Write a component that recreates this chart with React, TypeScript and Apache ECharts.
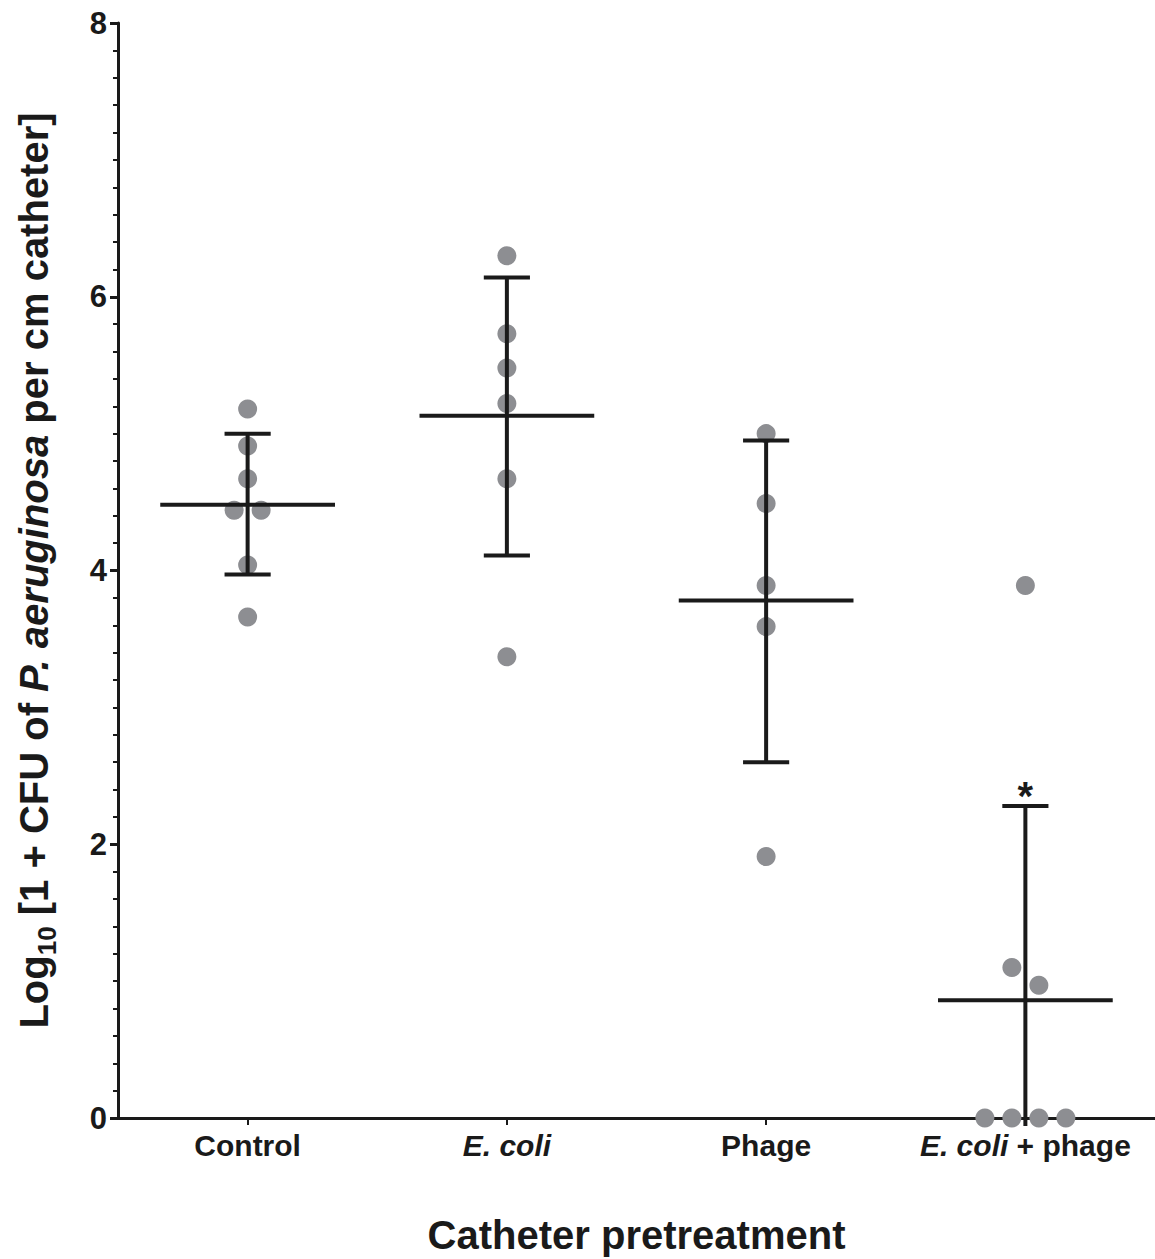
import React, { useEffect, useRef } from "react";
import * as echarts from "echarts";

// ---- data ----
const categories = ["Control", "E. coli", "Phage", "E. coli + phage"];

const controlValues = [5.18, 4.91, 4.67, 4.44, 4.44, 4.04, 3.66];
const controlSlots = [0, 0, 0, -0.5, 0.5, 0, 0];

const ecoliValues = [6.3, 5.73, 5.48, 5.22, 4.67, 3.37];
const ecoliSlots = [0, 0, 0, 0, 0, 0];

const phageValues = [5.0, 4.49, 3.89, 3.59, 1.91];
const phageSlots = [0, 0, 0, 0, 0];

const ecoliPhageValues = [3.89, 1.1, 0.97, 0, 0, 0, 0];
const ecoliPhageSlots = [0, -0.5, 0.5, -1.5, -0.5, 0.5, 1.5];

const groupValues = [controlValues, ecoliValues, phageValues, ecoliPhageValues];
const groupSlots = [controlSlots, ecoliSlots, phageSlots, ecoliPhageSlots];

const means = [4.48, 5.13, 3.78, 0.86];
const sdUpper = [5.0, 6.14, 4.95, 2.28];
const sdLower = [3.97, 4.11, 2.6, 0];
const significance = ["", "", "", "*"];

const yMin = 0;
const yMax = 8;
const yInterval = 2;

const INK = "#1a1a1a";
const DOT = "#8d8e92";
const FONT = "'Liberation Sans', Arial, Helvetica, sans-serif";
const SLOT_PX = 27;

export default function App() {
  const ref = useRef<HTMLDivElement>(null);

  useEffect(() => {
    if (!ref.current) return;
    const chart = echarts.init(ref.current, undefined, { renderer: "svg" });

    const scatterData: any[] = [];
    groupValues.forEach((vals, gi) => {
      vals.forEach((v, k) => {
        scatterData.push({
          value: [gi, v],
          symbolOffset: [groupSlots[gi][k] * SLOT_PX, 0],
        });
      });
    });

    const barData = categories.map((_, i) => [i, means[i], sdLower[i], sdUpper[i]]);

    chart.setOption({
      animation: false,
      backgroundColor: "#ffffff",
      grid: { left: 118, right: 0, top: 23, bottom: 141, outerBoundsMode: "none" },
      xAxis: {
        type: "category",
        data: categories,
        boundaryGap: true,
        name: "Catheter pretreatment",
        nameLocation: "middle",
        nameGap: 97,
        nameTextStyle: { fontFamily: FONT, fontWeight: "bold", fontSize: 40, color: INK },
        axisLine: { show: true, lineStyle: { color: INK, width: 3 } },
        axisTick: { show: true, alignWithLabel: true, length: 7, lineStyle: { color: INK, width: 2 } },
        axisLabel: {
          interval: 0,
          hideOverlap: false,
          margin: 12,
          fontFamily: FONT,
          fontWeight: "bold",
          fontSize: 30,
          color: INK,
          formatter: (v: string) => v.split("E. coli").join("{i|E. coli}"),
          rich: {
            i: { fontFamily: FONT, fontWeight: "bold", fontStyle: "italic", fontSize: 30, color: INK },
          },
        },
        splitLine: { show: false },
      },
      yAxis: {
        type: "value",
        min: yMin,
        max: yMax,
        interval: yInterval,
        name: "{a|Log}{s|10}{a| [1 + CFU of }{i|P. aeruginosa}{a| per cm catheter]}",
        nameLocation: "middle",
        nameRotate: 90,
        nameGap: 58,
        nameTextStyle: {
          fontFamily: FONT,
          fontWeight: "bold",
          fontSize: 40,
          color: INK,
          rich: {
            a: { fontFamily: FONT, fontWeight: "bold", fontSize: 40, color: INK, lineHeight: 46, verticalAlign: "bottom", padding: [0, 0, 6, 0] },
            s: { fontFamily: FONT, fontWeight: "bold", fontSize: 26, color: INK, lineHeight: 26, verticalAlign: "bottom" },
            i: { fontFamily: FONT, fontWeight: "bold", fontStyle: "italic", fontSize: 40, color: INK, lineHeight: 46, verticalAlign: "bottom", padding: [0, 0, 6, 0] },
          },
        },
        axisLine: { show: true, lineStyle: { color: INK, width: 3 } },
        axisTick: { show: true, length: 8, lineStyle: { color: INK, width: 3 } },
        minorTick: { show: true, splitNumber: 10, length: 5, lineStyle: { color: INK, width: 2 } },
        axisLabel: { margin: 11, fontFamily: FONT, fontWeight: "bold", fontSize: 31, color: INK },
        splitLine: { show: false },
        minorSplitLine: { show: false },
      },
      series: [
        {
          type: "scatter",
          data: scatterData,
          symbol: "circle",
          symbolSize: 19,
          itemStyle: { color: DOT, opacity: 1 },
          z: 2,
        },
        {
          type: "custom",
          z: 3,
          data: barData,
          renderItem: (params: any, api: any) => {
            const x = api.value(0);
            const m = api.coord([x, api.value(1)]);
            const lo = api.coord([x, api.value(2)]);
            const hi = api.coord([x, api.value(3)]);
            const band = api.size([1, 0])[0];
            const meanHalf = band * 0.337;
            const capHalf = band * 0.089;
            const ls = { stroke: INK, lineWidth: 4 };
            const atFloor = api.value(2) <= yMin;
            const children: any[] = [
              { type: "line", shape: { x1: hi[0], y1: hi[1], x2: lo[0], y2: lo[1] + (atFloor ? 8 : 0) }, style: ls },
              { type: "line", shape: { x1: hi[0] - capHalf, y1: hi[1], x2: hi[0] + capHalf, y2: hi[1] }, style: ls },
              { type: "line", shape: { x1: m[0] - meanHalf, y1: m[1], x2: m[0] + meanHalf, y2: m[1] }, style: ls },
            ];
            if (!atFloor) {
              children.push({ type: "line", shape: { x1: lo[0] - capHalf, y1: lo[1], x2: lo[0] + capHalf, y2: lo[1] }, style: ls });
            }
            const sig = significance[params.dataIndex];
            if (sig) {
              children.push({
                type: "text",
                style: {
                  text: sig,
                  x: hi[0],
                  y: hi[1] + 10,
                  align: "center",
                  verticalAlign: "bottom",
                  fontFamily: FONT,
                  fontWeight: "bold",
                  fontSize: 40,
                  fill: INK,
                },
              });
            }
            return { type: "group", children };
          },
        },
      ],
    });

    return () => chart.dispose();
  }, []);

  return (
    <div
      ref={ref}
      style={{ position: "absolute", left: 0, top: 0, width: 1155, height: 1259, background: "#fff" }}
    />
  );
}
